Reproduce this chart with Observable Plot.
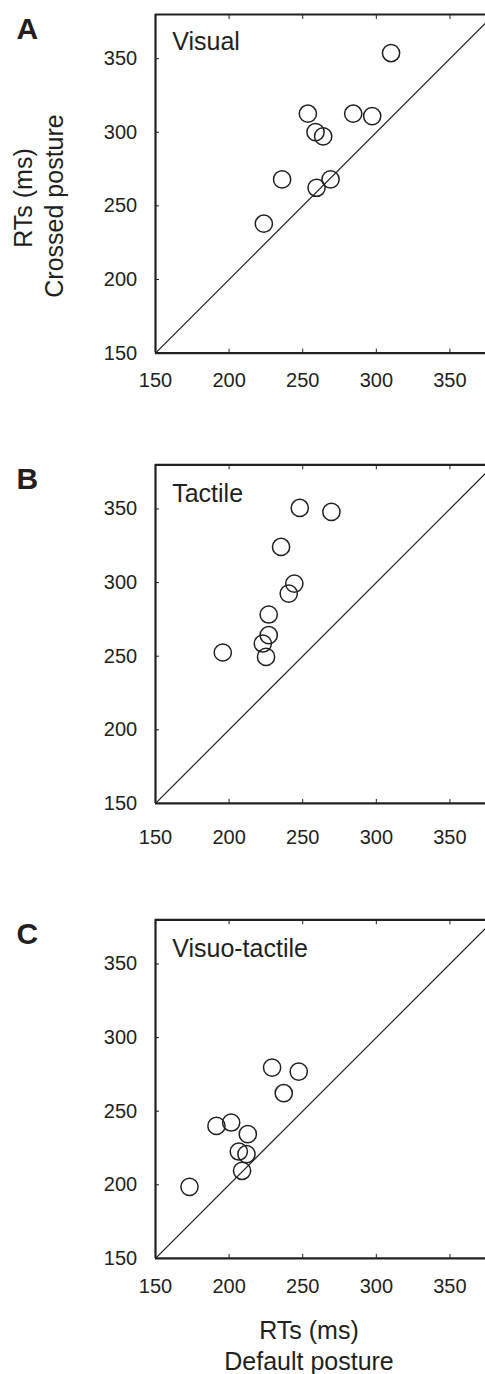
<!DOCTYPE html>
<html>
<head>
<meta charset="utf-8">
<script src="https://cdn.jsdelivr.net/npm/d3@7"></script>
<script src="https://cdn.jsdelivr.net/npm/@observablehq/plot@0.6"></script>
<style>
  body { margin: 0; background: #fff; }
  #chart svg { display: block; }
</style>
</head>
<body>
<div id="chart"></div>
<script>
// ---- data ----
const panelLetters = ["A", "B", "C"];
const panelNames = ["Visual", "Tactile", "Visuo-tactile"];

const visualDefault = [310.0, 253.5, 284.3, 297.2, 258.7, 263.9, 236.0, 259.4, 268.9, 223.6];
const visualCrossed = [353.8, 312.6, 312.6, 311.0, 300.1, 297.2, 268.0, 262.3, 268.0, 237.9];

const tactileDefault = [248.0, 269.5, 235.3, 244.3, 240.5, 226.9, 226.9, 222.9, 225.1, 195.7];
const tactileCrossed = [350.7, 348.0, 324.2, 299.3, 292.5, 278.3, 264.3, 258.6, 249.5, 252.5];

const vtDefault = [229.2, 247.3, 237.1, 191.4, 201.4, 212.7, 206.6, 211.8, 208.8, 173.1];
const vtCrossed = [279.6, 276.9, 262.2, 240.0, 242.3, 234.4, 222.6, 220.8, 209.5, 198.6];

const tickValues = [150, 200, 250, 300, 350];
const innerTickValues = [200, 250, 300, 350];
const identityLine = [150, 380];
const xTitle = ["RTs (ms)", "Default posture"];
const yTitle = ["RTs (ms)", "Crossed posture"];

// ---- layout ----
const INK = "#231f20";
const FONT = "'Liberation Sans', Arial, Helvetica, sans-serif";
const W = 485, ML = 155, PH = 338.6;
const xMax = 150 + (W - ML) * 230 / PH; // visible part of the 150..380 square

const layouts = [
  {height: 450, marginTop: 14,   xPad: 19.5, nameDy: 35},
  {height: 455, marginTop: 14.3, xPad: 26,   nameDy: 37},
  {height: 469, marginTop: 14.3, xPad: 20,   nameDy: 36.7}
];
const series = [
  [visualDefault, visualCrossed],
  [tactileDefault, tactileCrossed],
  [vtDefault, vtCrossed]
];

const root = document.getElementById("chart");

series.forEach(([xs, ys], i) => {
  const L = layouts[i];
  const pts = xs.map((x, j) => ({x, y: ys[j]}));
  const marks = [
    // diagonal y = x
    Plot.line(identityLine, {x: d => d, y: d => d, stroke: INK, strokeWidth: 1.2, clip: true}),
    // circles
    Plot.dot(pts, {x: "x", y: "y", r: 8.6, stroke: INK, strokeWidth: 1.5, fill: "none"}),
    // inward ticks
    Plot.axisX(innerTickValues, {anchor: "bottom", tickSize: 4, dy: -4, text: null, label: null, stroke: INK}),
    Plot.axisX(innerTickValues, {anchor: "top", tickSize: 4, dy: 4, text: null, label: null, stroke: INK}),
    Plot.axisY(innerTickValues, {anchor: "left", tickSize: 4, dx: 4, text: null, label: null, stroke: INK}),
    // tick labels
    Plot.axisX(tickValues, {anchor: "bottom", tickSize: 0, tickPadding: L.xPad, label: null, fontSize: 20, fill: INK}),
    Plot.axisY(tickValues, {anchor: "left", tickSize: 0, tickPadding: 18.3, label: null, fontSize: 20, fill: INK}),
    // frame lines (left, bottom, top)
    Plot.ruleX([150], {stroke: INK, strokeWidth: 2.2}),
    Plot.ruleY([150], {stroke: INK, strokeWidth: 2.2}),
    Plot.ruleY([380], {stroke: INK, strokeWidth: 2.2}),
    // panel letter
    Plot.text([panelLetters[i]], {text: d => d, frameAnchor: "top-left", dx: 16 - ML, dy: 24.5,
      lineAnchor: "bottom", textAnchor: "start", fontSize: 30, fontWeight: "bold", fill: INK}),
    // panel name
    Plot.text([panelNames[i]], {text: d => d, frameAnchor: "top-left", dx: 16.7, dy: L.nameDy,
      lineAnchor: "bottom", textAnchor: "start", fontSize: 25, fill: INK})
  ];
  if (i === 0) {
    const mid = L.marginTop + PH / 2;
    marks.push(
      Plot.text([yTitle[0]], {text: d => d, frameAnchor: "left", rotate: -90, dx: 31.7 - ML, dy: 197.5 - mid,
        lineAnchor: "bottom", textAnchor: "middle", fontSize: 25, fill: INK}),
      Plot.text([yTitle[1]], {text: d => d, frameAnchor: "left", rotate: -90, dx: 62.5 - ML, dy: 205.5 - mid,
        lineAnchor: "bottom", textAnchor: "middle", fontSize: 25, fill: INK})
    );
  }
  if (i === 2) {
    const cx = (ML + W) / 2;
    marks.push(
      Plot.text([xTitle[0]], {text: d => d, frameAnchor: "bottom", dx: 308.5 - cx, dy: 81,
        lineAnchor: "bottom", textAnchor: "middle", fontSize: 25, fill: INK}),
      Plot.text([xTitle[1]], {text: d => d, frameAnchor: "bottom", dx: 308.5 - cx, dy: 112,
        lineAnchor: "bottom", textAnchor: "middle", fontSize: 25, fill: INK})
    );
  }
  const svg = Plot.plot({
    width: W,
    height: L.height,
    marginLeft: ML,
    marginRight: 0,
    marginTop: L.marginTop,
    marginBottom: L.height - L.marginTop - PH,
    style: {fontFamily: FONT, fontSize: "20px", color: INK, background: "#fff", overflow: "visible"},
    x: {domain: [150, xMax]},
    y: {domain: [150, 380]},
    marks
  });
  root.appendChild(svg);
});
</script>
</body>
</html>
